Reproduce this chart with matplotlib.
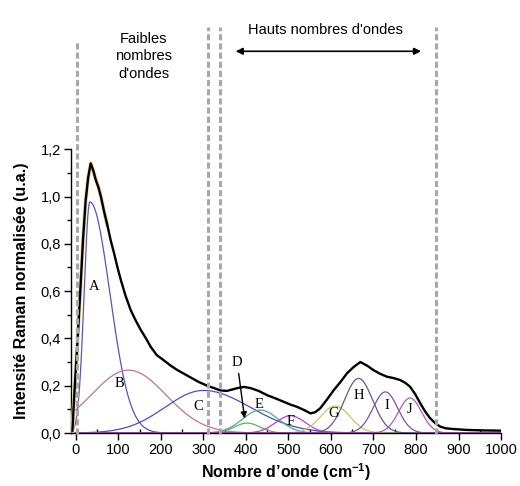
'''
Raman spectrum of the glass with its Gaussian decomposition (A-J)
saves out.png
'''
import numpy as np
import matplotlib.pyplot as plt
from matplotlib.ticker import MultipleLocator, FuncFormatter

rc_params = {
    "font.family": ["Liberation Sans", "DejaVu Sans"],
    "mathtext.fontset": "custom",
    "mathtext.rm": "Liberation Sans",
    "mathtext.bf": "Liberation Sans:bold",
    "axes.linewidth": 1.0,
    "axes.spines.right": False,
    "axes.spines.top": False,
    "xtick.labelsize": 10.5,
    "ytick.labelsize": 10.5,
}
plt.rcParams.update(rc_params)

wavenumber = [-8, -4, 0, 4, 8, 12, 17, 23, 29, 35, 41, 47, 53, 59, 66, 74, 82, 90,
              98, 106, 117, 129, 141, 153, 165, 176, 190, 205, 223, 240, 255, 270,
              290, 309, 325, 340, 355, 370, 380, 395, 411, 430, 450, 470, 489, 505,
              520, 537, 552, 563, 575, 590, 606, 622, 638, 654, 669, 685, 700, 716,
              732, 748, 763, 775, 786, 798, 810, 822, 833, 845, 857, 870, 887, 920,
              960, 998]
intensity = [0.01, 0.15, 0.27, 0.39, 0.52, 0.65, 0.82, 0.98, 1.08, 1.14, 1.11, 1.07,
             1.04, 1.0, 0.94, 0.88, 0.815, 0.76, 0.70, 0.646, 0.58, 0.52, 0.475,
             0.435, 0.40, 0.365, 0.33, 0.31, 0.285, 0.265, 0.25, 0.235, 0.215, 0.20,
             0.19, 0.18, 0.178, 0.185, 0.19, 0.195, 0.19, 0.178, 0.16, 0.146, 0.132,
             0.12, 0.111, 0.097, 0.083, 0.088, 0.105, 0.14, 0.18, 0.215, 0.253, 0.28,
             0.30, 0.285, 0.266, 0.25, 0.238, 0.232, 0.224, 0.212, 0.196, 0.165,
             0.126, 0.09, 0.063, 0.042, 0.027, 0.02, 0.017, 0.013, 0.011, 0.01]
n_fit_visible = 16  # the fit envelope only shows around the main band

# fitted components: centre, height, left / right width
peak_names = ["A", "B", "C", "D", "E", "F", "G", "H", "I", "J"]
peak_centers = [33, 124, 300, 403, 434, 505, 610, 665, 728, 786]
peak_heights = [0.977, 0.266, 0.18, 0.042, 0.097, 0.073, 0.114, 0.231, 0.174, 0.148]
peak_sigma_left = [13.5, 88, 90, 30, 42, 35, 35, 33, 29, 27]
peak_sigma_right = [47, 88, 110, 30, 42, 35, 35, 33, 29, 27]
peak_colors = ["#5a55b8", "#c27585", "#4f4cc4", "#6aa86a", "#5aa58a", "#b048d0",
               "#c8c46a", "#5f5a92", "#84509a", "#b458b8"]
label_x = [43, 102, 289, 380, 432, 505, 606, 665, 732, 786]
label_y = [0.618, 0.21, 0.111, 0.297, 0.122, 0.048, 0.083, 0.16, 0.118, 0.10]

# limits of the spectral regions
region_lines = [2, 312, 338, 847]
region_tops = [1.66, 1.715, 1.715, 1.715]

fig = plt.figure(figsize=(5.2, 4.86), dpi=100)
ax = fig.add_axes([0.136, 0.109, 0.8275, 0.584])

xs = np.linspace(-8, 1000, 1200)
for c, h, sl, sr, col in zip(peak_centers, peak_heights, peak_sigma_left,
                             peak_sigma_right, peak_colors):
    sig = np.where(xs < c, sl, sr)
    comp = h * np.exp(-0.5 * ((xs - c) / sig) ** 2)
    ax.plot(xs, comp, color=col, linewidth=0.9, zorder=2)

ax.plot(wavenumber[:n_fit_visible], intensity[:n_fit_visible], color="#ead898",
        linewidth=2.8, zorder=3)
ax.plot(wavenumber, intensity, color="black", linewidth=1.7, zorder=4)

for name, lx, ly in zip(peak_names, label_x, label_y):
    ax.text(lx, ly, name, family="Liberation Serif", fontsize=10.5,
            ha="center", va="center", zorder=6)

# arrow pointing to D
ax.annotate("", xy=(397, 0.062), xytext=(383, 0.252),
            arrowprops=dict(arrowstyle="-|>", color="black", lw=1.0,
                            mutation_scale=9, shrinkA=0, shrinkB=0), zorder=6)

for xl, top in zip(region_lines, region_tops):
    ax.plot([xl, xl], [-0.005, top], color="#a8a8a8", linewidth=2.2,
            linestyle=(0, (2, 1)), clip_on=False, zorder=5)

ax.text(160, 1.593, "Faibles\nnombres\nd'ondes", ha="center", va="center",
        fontsize=10.5, linespacing=1.3, clip_on=False)
ax.text(587, 1.703, "Hauts nombres d'ondes", ha="center", va="center",
        fontsize=10.5, clip_on=False)
ax.annotate("", xy=(376, 1.614), xytext=(812, 1.614),
            arrowprops=dict(arrowstyle="<|-|>", color="black", lw=1.2,
                            mutation_scale=10, shrinkA=0, shrinkB=0),
            annotation_clip=False)

ax.set_xlim(-12, 1000)
ax.set_ylim(0, 1.2)
ax.xaxis.set_major_locator(MultipleLocator(100))
ax.xaxis.set_minor_locator(MultipleLocator(50))
ax.yaxis.set_major_locator(MultipleLocator(0.2))
ax.yaxis.set_minor_locator(MultipleLocator(0.1))
ax.yaxis.set_major_formatter(FuncFormatter(lambda v, p: f"{v:.1f}".replace(".", ",")))
ax.tick_params(axis="both", which="major", direction="out", length=5, width=1.0, pad=2)
ax.tick_params(axis="y", which="minor", direction="out", length=3, width=1.0)
ax.tick_params(axis="x", which="minor", direction="in", length=3, width=1.0)

ax.set_xlabel(r"Nombre d’onde (cm$^{\mathbf{-1}}$)", fontsize=11.5,
              fontweight="bold", labelpad=3)
ax.set_ylabel("Intensité Raman normalisée (u.a.)", fontsize=11.5,
              fontweight="bold", labelpad=8)

plt.savefig("out.png", dpi=100)
plt.close()
